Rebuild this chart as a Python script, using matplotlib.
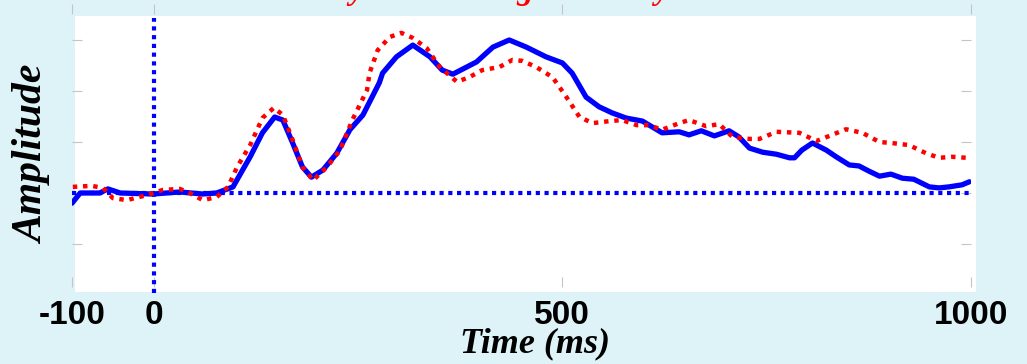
import matplotlib.pyplot as plt
from matplotlib.patches import Rectangle

# time (ms) and amplitude for the two averaged waveforms
t_blue = [-100, -90, -66, -56, -41, -1, 32, 60, 77, 97, 118, 133, 148, 158, 170, 182,
          193, 207, 224, 240, 256, 276, 280, 297, 317, 338, 353, 366, 395, 415, 435,
          456, 480, 500, 512, 529, 545, 561, 578, 598, 622, 643, 655, 670, 686, 704,
          716, 729, 745, 762, 778, 784, 793, 806, 823, 835, 851, 863, 875, 888, 902,
          916, 930, 949, 961, 973, 989, 998]
amp_blue = [-0.20, 0.00, 0.00, 0.08, 0.00, -0.02, 0.02, -0.02, 0.00, 0.12, 0.71, 1.18,
            1.49, 1.43, 0.98, 0.51, 0.31, 0.45, 0.78, 1.24, 1.53, 2.16, 2.35, 2.67, 2.90,
            2.67, 2.41, 2.33, 2.57, 2.86, 3.00, 2.86, 2.67, 2.55, 2.35, 1.88, 1.69, 1.57,
            1.47, 1.41, 1.18, 1.20, 1.14, 1.22, 1.12, 1.22, 1.10, 0.88, 0.80, 0.76, 0.69,
            0.69, 0.84, 0.98, 0.84, 0.71, 0.55, 0.53, 0.43, 0.33, 0.37, 0.29, 0.27, 0.12,
            0.10, 0.12, 0.16, 0.22]

t_red = [-99, -76, -62, -50, -33, -8, 11, 32, 44, 60, 77, 91, 102, 118, 133, 147, 158,
         170, 182, 195, 212, 228, 243, 261, 264, 274, 289, 303, 317, 334, 350, 371, 386,
         402, 423, 439, 451, 468, 488, 505, 521, 537, 558, 573, 591, 606, 622, 643, 655,
         676, 692, 708, 729, 741, 762, 790, 811, 830, 847, 867, 888, 903, 924, 945, 961,
         977, 995]
amp_red = [0.12, 0.14, 0.10, -0.10, -0.14, -0.04, 0.06, 0.08, 0.00, -0.14, -0.08, 0.12,
           0.51, 0.94, 1.47, 1.67, 1.53, 1.04, 0.51, 0.25, 0.51, 0.84, 1.43, 2.02, 2.35,
           2.80, 3.06, 3.14, 3.04, 2.84, 2.47, 2.18, 2.27, 2.41, 2.47, 2.61, 2.59, 2.47,
           2.27, 1.88, 1.49, 1.37, 1.41, 1.43, 1.33, 1.33, 1.24, 1.37, 1.43, 1.31, 1.35,
           1.10, 1.06, 1.06, 1.20, 1.18, 1.02, 1.14, 1.25, 1.18, 1.00, 0.98, 0.94, 0.78,
           0.69, 0.71, 0.69]

xticks = [-100, 0, 500, 1000]
yticks = [-1, 0, 1, 2, 3]

plt.rcParams["axes.unicode_minus"] = False

W, H = 1027, 364
fig = plt.figure(figsize=(W / 100, H / 100), dpi=100, facecolor="#ddf3f8")

# white panel behind the plot
fig.patches.append(Rectangle((75 / W, 1 - 292 / H), 901 / W, 276 / H,
                             transform=fig.transFigure, facecolor="white",
                             edgecolor="none", zorder=-5))

ax = fig.add_axes([72 / W, 1 - 287 / H, 899 / W, 283 / H])
ax.set_facecolor("none")
ax.set_xlim(-100, 1000)
ax.set_ylim(-(287 - 193) / 51, (193 - 4) / 51)
for s in ax.spines.values():
    s.set_visible(False)

ax.set_xticks(xticks)
ax.set_xticklabels([str(v) for v in xticks])
ax.set_yticks(yticks)
ax.tick_params(axis="both", direction="in", length=7.5, width=0.8, color="#c4c4c4",
               top=True, right=True)
ax.tick_params(axis="y", labelleft=False)
ax.tick_params(axis="x", pad=9, labelsize=24)
for lab in ax.get_xticklabels():
    lab.set_fontfamily("Liberation Sans")
    lab.set_fontweight("bold")

# baseline and stimulus onset
ax.plot([-100, 1000], [0, 0], color="#0000ff", lw=3, linestyle=(0, (1, 1.1)),
        dash_capstyle="butt", zorder=2)
ax.plot([0, 0], [-1.96, 3.43], color="#0000ff", lw=3, linestyle=(0, (1, 1.1)),
        dash_capstyle="butt", clip_on=False, zorder=2)

ax.plot(t_blue, amp_blue, color="#0000ff", lw=3.8, solid_capstyle="round",
        solid_joinstyle="round", zorder=3)
ax.plot(t_red, amp_red, color="#ff0000", lw=3.2, linestyle=(0, (1, 1.3)),
        dash_capstyle="butt", zorder=4)

serif = dict(family="Liberation Serif", weight="bold", style="italic")
fig.text(535 / W, 1 - 344 / H, "Time (ms)", ha="center", va="center", fontsize=26, **serif)
fig.text(33 / W, 1 - 155 / H, "Amplitude", ha="center", va="center", rotation=90,
         fontsize=30, **serif)
# title sits above the visible canvas, only its descenders show
fig.text(290 / W, 1 + 0.5 / H, "Early ERP average in Delay Task", ha="left",
         va="baseline", color="red", fontsize=23.5, **serif)

fig.savefig("out.png", dpi=100, facecolor=fig.get_facecolor())
